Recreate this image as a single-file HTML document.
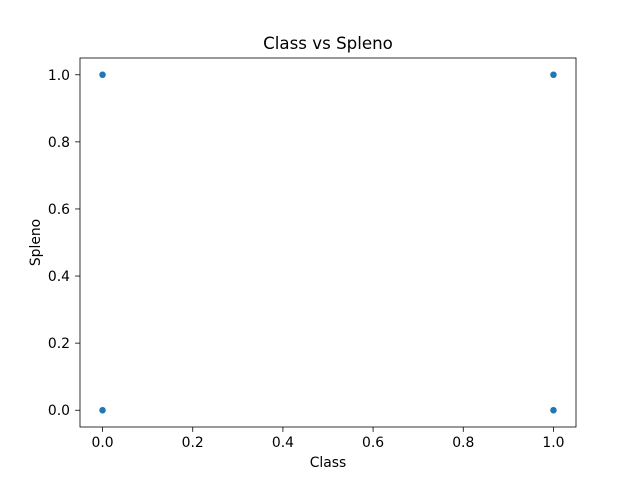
<!DOCTYPE html>
<html><head><meta charset="utf-8"><style>
body{margin:0;background:#fff;}
svg{font-family:"DejaVu Sans","Liberation Sans",sans-serif;}
</style></head><body>
<svg id="chart" width="640" height="480">
<rect x="0" y="0" width="640" height="480" fill="#fff"/>
<text x="328" y="49" text-anchor="middle" font-size="16.67">Class vs Spleno</text>
<g id="ticks"></g>
<g id="points"></g>
<rect x="80" y="58" width="496" height="369" fill="none" stroke="#000" stroke-width="0.8"/>
<text x="328" y="467" text-anchor="middle" font-size="13.9">Class</text>
<text transform="translate(40,242.5) rotate(-90)" text-anchor="middle" font-size="13.9">Spleno</text>
</svg>
<script>
const xValues=[0,0,1,1];
const yValues=[0,1,0,1];
const xTicks=[0,0.2,0.4,0.6,0.8,1.0];
const yTicks=[0,0.2,0.4,0.6,0.8,1.0];
const x0=80,x1=576,y0=427,y1=58;
const xmin=-0.05,xmax=1.05,ymin=-0.05,ymax=1.05;
function sx(v){return x0+(v-xmin)/(xmax-xmin)*(x1-x0);}
function sy(v){return y0-(v-ymin)/(ymax-ymin)*(y0-y1);}
const NS="http://www.w3.org/2000/svg";
const tg=document.getElementById('ticks');
xTicks.forEach(t=>{
  const l=document.createElementNS(NS,'line');
  l.setAttribute('x1',sx(t));l.setAttribute('x2',sx(t));l.setAttribute('y1',y0);l.setAttribute('y2',y0+4.9);
  l.setAttribute('stroke','#000');l.setAttribute('stroke-width','0.8');
  
  
  tg.appendChild(l);
  const tx=document.createElementNS(NS,'text');
  tx.setAttribute('x',sx(t));tx.setAttribute('y',y0+20);tx.setAttribute('text-anchor','middle');tx.setAttribute('font-size','13.9');
  tx.textContent=t.toFixed(1);
  
  
  tg.appendChild(tx);
});
yTicks.forEach(t=>{
  const l=document.createElementNS(NS,'line');
  l.setAttribute('x1',x0-4.9);l.setAttribute('x2',x0);l.setAttribute('y1',sy(t));l.setAttribute('y2',sy(t));
  l.setAttribute('stroke','#000');l.setAttribute('stroke-width','0.8');
  
  
  tg.appendChild(l);
  const tx=document.createElementNS(NS,'text');
  tx.setAttribute('x',x0-10);tx.setAttribute('y',sy(t)+5);tx.setAttribute('text-anchor','end');tx.setAttribute('font-size','13.9');
  tx.textContent=t.toFixed(1);
  
  
  tg.appendChild(tx);
});
const pg=document.getElementById('points');
xValues.forEach((xv,i)=>{
  const c=document.createElementNS(NS,'circle');
  c.setAttribute('cx',sx(xv));c.setAttribute('cy',sy(yValues[i]));c.setAttribute('r','3.5');
  c.setAttribute('fill','#1f77b4');c.setAttribute('stroke','#fff');c.setAttribute('stroke-width','0.5');
  
  
  pg.appendChild(c);
});
</script>
</body></html>
